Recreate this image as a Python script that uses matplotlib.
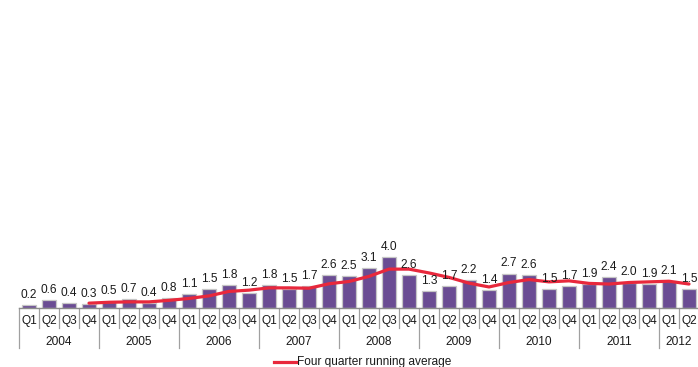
import matplotlib
matplotlib.use("Agg")
import matplotlib.pyplot as plt
from matplotlib.lines import Line2D

plt.rcParams['font.family'] = ['Liberation Sans', 'DejaVu Sans']

years = ['2004', '2005', '2006', '2007', '2008', '2009', '2010', '2011', '2012']
quarters = ['Q1', 'Q2', 'Q3', 'Q4'] * 8 + ['Q1', 'Q2']
values = [0.2, 0.6, 0.4, 0.3, 0.5, 0.7, 0.4, 0.8, 1.1, 1.5, 1.8, 1.2,
          1.8, 1.5, 1.7, 2.6, 2.5, 3.1, 4.0, 2.6, 1.3, 1.7, 2.2, 1.4,
          2.7, 2.6, 1.5, 1.7, 1.9, 2.4, 2.0, 1.9, 2.1, 1.5]
value_labels = ['%.1f' % v for v in values]
# four quarter running average (starts at 2004 Q4)
running_avg = [0.38, 0.45, 0.48, 0.48, 0.60, 0.75, 0.95, 1.30, 1.40,
               1.58, 1.58, 1.55, 1.90, 2.08, 2.48, 3.05, 3.05, 2.75,
               2.40, 1.95, 1.65, 2.00, 2.23, 2.05, 2.13, 1.93, 1.88,
               2.00, 2.05, 2.10, 1.88]
legend_label = 'Four quarter running average'

FS = 8.6
W, H = 698, 367
fig = plt.figure(figsize=(W / 100, H / 100), dpi=100)
axis_y = 308
ax_h = axis_y
ax = fig.add_axes([19 / W, (H - axis_y) / H, 680 / W, ax_h / H])
n = len(values)
x = list(range(n))
ax.set_xlim(-0.5, n - 0.5)
ax.set_ylim(0, ax_h / 12.75)
ax.axis('off')

ax.bar(x, values, width=0.7, color='#6A4C93', edgecolor='#c6c6c6',
       linewidth=0.9, zorder=2)
ax.plot(x[3:], running_avg, color='#E8283C', lw=2.3,
        solid_joinstyle='round', solid_capstyle='round', zorder=3)

for xi, v, lab in zip(x, values, value_labels):
    ax.annotate(lab, (xi, v), xytext=(0, 3), textcoords='offset points',
                ha='center', va='bottom', fontsize=FS, color='#1a1a1a',
                zorder=4)

ax.axhline(0, color='#8c8c8c', lw=1.0, zorder=3, clip_on=False)

tr = ax.get_xaxis_transform()
for i in range(n + 1):
    is_year = (i % 4 == 0)
    length = 40 if is_year else 20
    ax.plot([i - 0.5, i - 0.5], [0, -length / ax_h], color='#a0a0a0',
            lw=0.9, transform=tr, clip_on=False)

for xi, q in zip(x, quarters):
    ax.text(xi, -13 / ax_h, q, transform=tr, ha='center', va='center',
            fontsize=FS, color='#1a1a1a')

for k, yr in enumerate(years):
    start = 4 * k
    end = min(4 * k + 3, n - 1)
    ax.text((start + end) / 2, -34 / ax_h, yr, transform=tr, ha='center',
            va='center', fontsize=FS, color='#1a1a1a')

fig.add_artist(Line2D([274 / W, 296 / W], [5 / H, 5 / H], color='#E8283C',
                      lw=2.3, transform=fig.transFigure))
fig.text(297 / W, 5 / H, legend_label, ha='left', va='center', fontsize=FS,
         color='#1a1a1a')

fig.savefig('out.png', dpi=100)
